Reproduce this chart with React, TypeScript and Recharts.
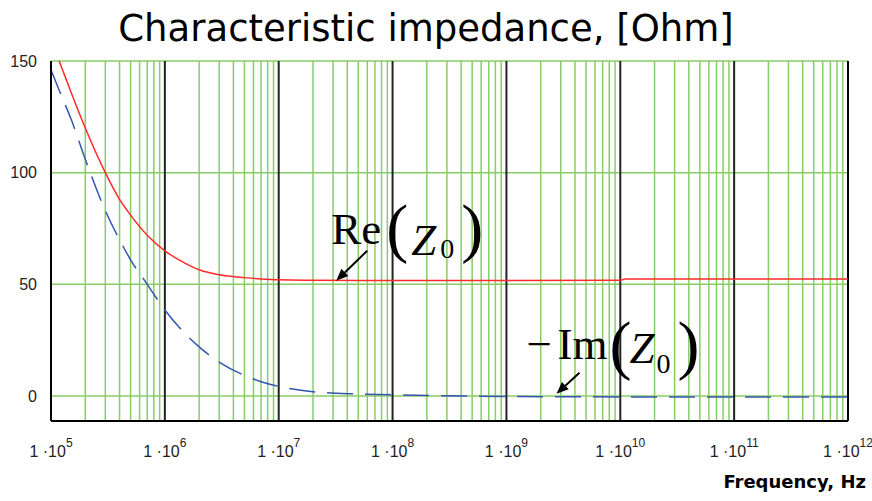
import { LineChart, Line, XAxis, YAxis, ReferenceLine, ReferenceDot } from 'recharts'

// frequency points (Hz) and the two impedance curves
const freqs = [1e5, 1.2e5, 1.5e5, 2e5, 3e5, 4e5, 5e5, 7e5, 1e6, 1.5e6, 2e6, 3e6, 5e6, 7e6, 1e7, 2e7, 5e7, 1e8, 1e9, 1e10, 1.1e10, 1e11, 1e12]
const reZ0 = [160, 149, 136, 120, 100, 88, 81, 72, 65, 59.5, 56.5, 54.3, 53, 52.4, 52, 51.8, 51.7, 51.7, 51.7, 51.8, 52.4, 52.4, 52.4]
const negImZ0 = [146, 136, 124, 106, 83, 70, 61, 50, 38.5, 28, 22, 15.2, 9.2, 6.4, 4.3, 1.9, 0.9, 0.5, -0.2, -0.4, -0.4, -0.5, -0.5]

const tickExponents = [5, 6, 7, 8, 9, 10, 11, 12]
const decadeExponents = [5, 6, 7, 8, 9, 10, 11]
const minorMultipliers = [2, 3, 4, 5, 6, 7, 8, 9]
const yTicks = [0, 50, 100, 150]

// where the arrows of the two labels point
const reArrow = { f: 3.2e7, v: 51.6 }
const imArrow = { f: 2.75e9, v: 1.0 }

const data = freqs.map((f, i) => ({ f, re: reZ0[i], im: negImZ0[i] }))
const xTicks = tickExponents.map((e) => Math.pow(10, e))
const decadeLines = xTicks.slice(1, -1)
const minorLines = decadeExponents.flatMap((e) => minorMultipliers.map((m) => m * Math.pow(10, e)))

const GREEN = '#88cc66'
const SERIF = '"Liberation Serif", "Times New Roman", serif'

const XTick = (props: any) => {
  const { x, y, payload } = props
  const exp = Math.round(Math.log10(payload.value))
  return (
    <text x={x} y={y + 28} textAnchor="middle" fill="#222" fontFamily="Liberation Sans, Arial, sans-serif" fontSize={16}>
      1 ·10
      <tspan dy={-10} fontSize={12}>{exp}</tspan>
    </text>
  )
}

const arrow = (x1: number, y1: number, x2: number, y2: number) => {
  const ang = Math.atan2(y2 - y1, x2 - x1)
  const len = 12
  const w = 5
  const bx = x2 - len * Math.cos(ang)
  const by = y2 - len * Math.sin(ang)
  const px = -Math.sin(ang) * w
  const py = Math.cos(ang) * w
  return (
    <g>
      <line x1={x1} y1={y1} x2={bx} y2={by} stroke="#000" strokeWidth={2} />
      <polygon points={`${x2},${y2} ${bx + px},${by + py} ${bx - px},${by - py}`} fill="#000" />
    </g>
  )
}

const ReLabel = (props: any) => {
  const { cx, cy } = props
  return (
    <g fontFamily={SERIF} fill="#000">
      {arrow(cx + 31, cy - 30, cx, cy)}
      <text x={cx - 5} y={cy - 37} fontSize={45}>Re</text>
      <text x={cx + 50} y={cy - 31} fontSize={66}>(</text>
      <text x={cx + 75} y={cy - 26} fontSize={45} fontStyle="italic">Z</text>
      <text x={cx + 104} y={cy - 23} fontSize={28}>0</text>
      <text x={cx + 125} y={cy - 31} fontSize={66}>)</text>
    </g>
  )
}

const ImLabel = (props: any) => {
  const { cx, cy } = props
  return (
    <g fontFamily={SERIF} fill="#000">
      {arrow(cx + 23, cy - 21, cx, cy)}
      <text x={cx - 30} y={cy - 35} fontSize={45}>−</text>
      <text x={cx + 1} y={cy - 35} fontSize={45}>Im</text>
      <text x={cx + 53} y={cy - 27} fontSize={66}>(</text>
      <text x={cx + 73} y={cy - 31} fontSize={45} fontStyle="italic">Z</text>
      <text x={cx + 100} y={cy - 21} fontSize={28}>0</text>
      <text x={cx + 121} y={cy - 27} fontSize={66}>)</text>
    </g>
  )
}

export default function App() {
  return (
    <div style={{ position: 'absolute', left: 0, top: 0, width: 872, height: 501, background: '#fff' }}>
      <LineChart width={872} height={501} data={data} margin={{ top: 61, right: 24, bottom: 0, left: 0 }}>
        <XAxis
          dataKey="f"
          type="number"
          scale="log"
          domain={[1e5, 1e12]}
          ticks={xTicks}
          interval={0}
          allowDataOverflow
          height={80}
          tickLine={false}
          axisLine={{ stroke: '#000', strokeWidth: 2 }}
          tick={<XTick />}
        />
        <YAxis
          type="number"
          domain={[-11.2, 150]}
          ticks={yTicks}
          interval={0}
          allowDataOverflow
          width={51}
          tickLine={false}
          tickSize={6}
          tickMargin={8}
          axisLine={{ stroke: '#000', strokeWidth: 2 }}
          tick={{ fill: '#222', fontSize: 16, fontFamily: 'Liberation Sans, Arial, sans-serif' }}
        />
        {minorLines.map((v) => (
          <ReferenceLine key={`m${v}`} x={v} stroke={GREEN} strokeWidth={1.5} />
        ))}
        {yTicks.map((v) => (
          <ReferenceLine key={`h${v}`} y={v} stroke={GREEN} strokeWidth={1.5} />
        ))}
        {decadeLines.map((v) => (
          <ReferenceLine key={`d${v}`} x={v} stroke="#222" strokeWidth={2} />
        ))}
        <ReferenceLine x={1e12} stroke="#000" strokeWidth={2} />
        <Line dataKey="re" type="monotone" stroke="#ff2a2a" strokeWidth={1.5} dot={false} isAnimationActive={false} />
        <Line
          dataKey="im"
          type="monotone"
          stroke="#3355b0"
          strokeWidth={1.5}
          strokeDasharray="26 12"
          dot={false}
          isAnimationActive={false}
        />
        <ReferenceDot x={reArrow.f} y={reArrow.v} shape={<ReLabel />} />
        <ReferenceDot x={imArrow.f} y={imArrow.v} shape={<ImLabel />} />
      </LineChart>
      <svg width={872} height={501} style={{ position: 'absolute', left: 0, top: 0, pointerEvents: 'none' }}>
        <text x={426} y={41} textAnchor="middle" fontFamily="DejaVu Sans, Verdana, sans-serif" fontSize={37} fill="#000">
          Characteristic impedance, [Ohm]
        </text>
        <text x={866} y={488} textAnchor="end" fontFamily="DejaVu Sans, Verdana, sans-serif" fontWeight="bold" fontSize={18} fill="#000">
          Frequency, Hz
        </text>
      </svg>
    </div>
  )
}
